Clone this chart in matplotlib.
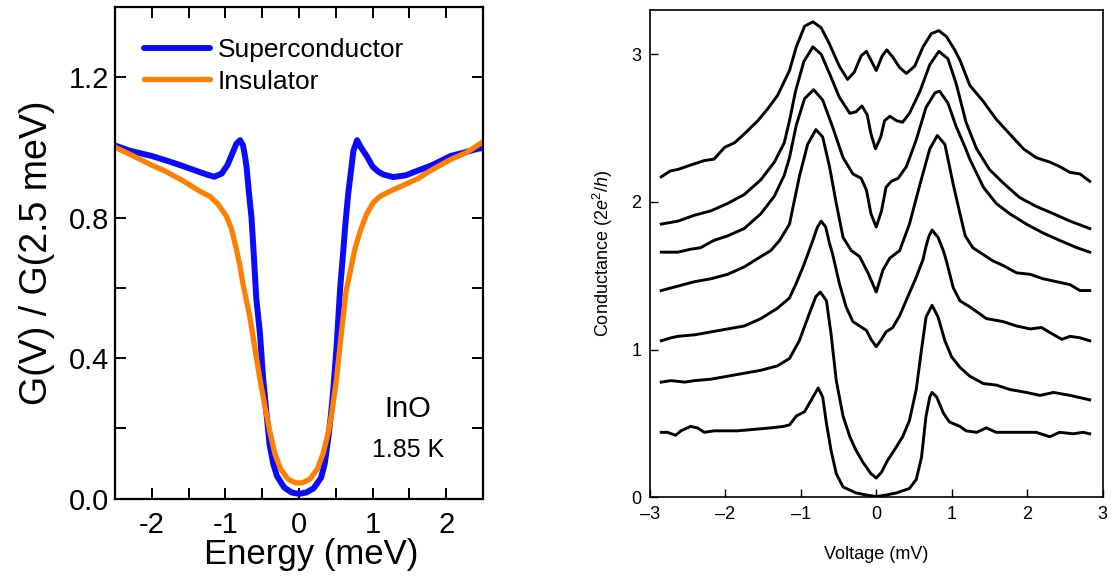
import matplotlib
matplotlib.use("Agg")
import matplotlib.pyplot as plt
from matplotlib.ticker import MultipleLocator, FuncFormatter, FormatStrFormatter

plt.rcParams['font.family'] = ['Liberation Sans', 'DejaVu Sans']
plt.rcParams['mathtext.fontset'] = 'custom'
plt.rcParams['mathtext.rm'] = 'Liberation Sans'
plt.rcParams['mathtext.it'] = 'Liberation Sans:italic'
plt.rcParams['axes.unicode_minus'] = False

# ---- left panel: normalised tunnelling conductance ----
sc_energy = [-2.5, -2.3, -2.0, -1.8, -1.6, -1.4, -1.25, -1.15, -1.05, -0.97, -0.9, -0.85, -0.8,
             -0.76, -0.73, -0.71, -0.68, -0.645, -0.61, -0.58, -0.53, -0.49, -0.44, -0.4, -0.35,
             -0.3, -0.2, -0.1, 0.0, 0.1, 0.2, 0.3, 0.35, 0.4, 0.44, 0.47, 0.51, 0.56, 0.6, 0.63,
             0.67, 0.7, 0.74, 0.79, 0.84, 0.92, 1.0, 1.08, 1.15, 1.28, 1.45, 1.61, 1.8, 2.06,
             2.25, 2.42, 2.5]
sc_cond = [1.005, 0.99, 0.975, 0.962, 0.948, 0.933, 0.922, 0.916, 0.925, 0.95, 0.985, 1.01, 1.02,
           1.005, 0.97, 0.94, 0.87, 0.80, 0.68, 0.57, 0.47, 0.35, 0.24, 0.155, 0.10,
           0.065, 0.032, 0.018, 0.014, 0.018, 0.03, 0.06, 0.10, 0.175, 0.25, 0.32, 0.43, 0.60, 0.70, 0.78,
           0.87, 0.92, 0.99, 1.02, 1.0, 0.975, 0.945, 0.93, 0.922, 0.915, 0.92, 0.933, 0.948, 0.975,
           0.985, 0.995, 0.998]

ins_energy = [-2.5, -2.25, -2.03, -1.8, -1.58, -1.35, -1.21, -1.1, -0.99, -0.92, -0.85, -0.8, -0.76,
              -0.72, -0.67, -0.6, -0.53, -0.46, -0.4, -0.33, -0.25, -0.15, -0.05, 0.0, 0.05, 0.15,
              0.25, 0.33, 0.4, 0.45, 0.51, 0.57, 0.64, 0.7, 0.76, 0.83, 0.92, 1.01, 1.1, 1.24, 1.4,
              1.61, 1.8, 2.06, 2.28, 2.5]
ins_cond = [1.0, 0.975, 0.952, 0.93, 0.905, 0.875, 0.86, 0.838, 0.805, 0.77, 0.71, 0.66, 0.61,
            0.57, 0.52, 0.43, 0.34, 0.26, 0.195, 0.13, 0.085, 0.056, 0.046, 0.045, 0.046, 0.056,
            0.085, 0.13, 0.19, 0.25, 0.34, 0.46, 0.59, 0.65, 0.71, 0.76, 0.81, 0.843, 0.86, 0.875, 0.89,
            0.91, 0.935, 0.965, 0.985, 1.015]

# ---- right panel: stacked conductance spectra (top to bottom) ----
v1 = [-2.85, -2.73, -2.63, -2.46, -2.28, -2.15, -2.01, -1.88, -1.75, -1.57, -1.44, -1.31, -1.15,
      -1.06, -0.95, -0.84, -0.73, -0.62, -0.49, -0.38, -0.29, -0.2, -0.13, -0.07, 0.0, 0.08, 0.14,
      0.22, 0.31, 0.4, 0.51, 0.62, 0.73, 0.83, 0.93, 1.04, 1.11, 1.24, 1.42, 1.59, 1.77, 1.95, 2.12,
      2.3, 2.43, 2.57, 2.7, 2.83]
g1 = [2.17, 2.21, 2.22, 2.25, 2.28, 2.29, 2.37, 2.40, 2.46, 2.55, 2.63, 2.72, 2.89,
      3.05, 3.19, 3.22, 3.18, 3.07, 2.92, 2.83, 2.88, 2.99, 3.02, 2.96, 2.89, 2.99, 3.03,
      2.98, 2.91, 2.87, 2.92, 3.05, 3.14, 3.16, 3.12, 3.03, 2.96, 2.79, 2.68, 2.56, 2.46, 2.36, 2.30,
      2.27, 2.24, 2.20, 2.19, 2.14]

v2 = [-2.85, -2.63, -2.41, -2.19, -1.97, -1.75, -1.53, -1.35, -1.22, -1.15, -1.07, -0.96, -0.84,
      -0.73, -0.62, -0.49, -0.35, -0.27, -0.19, -0.12, -0.07, -0.01, 0.06, 0.11, 0.18, 0.27, 0.35,
      0.44, 0.58, 0.71, 0.83, 0.95, 1.06, 1.19, 1.33, 1.5, 1.68, 1.9, 2.12, 2.35, 2.57, 2.83]
g2 = [1.85, 1.87, 1.91, 1.94, 1.99, 2.05, 2.15, 2.27, 2.40, 2.55, 2.75, 2.95, 3.05,
      3.00, 2.87, 2.71, 2.60, 2.61, 2.65, 2.59, 2.46, 2.36, 2.44, 2.55, 2.58, 2.55, 2.54,
      2.60, 2.75, 2.93, 3.02, 2.97, 2.80, 2.54, 2.36, 2.22, 2.13, 2.03, 1.97, 1.92, 1.87, 1.82]

v3 = [-2.85, -2.73, -2.63, -2.46, -2.33, -2.15, -1.97, -1.75, -1.53, -1.35, -1.22, -1.15, -1.06,
      -0.95, -0.83, -0.71, -0.58, -0.44, -0.31, -0.2, -0.13, -0.07, 0.0, 0.07, 0.13, 0.2, 0.29, 0.4,
      0.53, 0.66, 0.78, 0.84, 0.95, 1.06, 1.17, 1.24, 1.42, 1.59, 1.77, 1.99, 2.21, 2.43, 2.66, 2.83]
g3 = [1.66, 1.66, 1.66, 1.68, 1.69, 1.74, 1.77, 1.82, 1.92, 2.04, 2.18, 2.30, 2.52,
      2.70, 2.76, 2.69, 2.51, 2.30, 2.19, 2.16, 2.08, 1.92, 1.83, 1.94, 2.10, 2.14, 2.16, 2.24,
      2.42, 2.64, 2.74, 2.75, 2.67, 2.51, 2.38, 2.29, 2.10, 1.99, 1.92, 1.85, 1.79, 1.74, 1.69, 1.66]

v4 = [-2.85, -2.63, -2.41, -2.19, -1.97, -1.75, -1.53, -1.4, -1.28, -1.15, -1.02, -0.91, -0.8,
      -0.71, -0.62, -0.53, -0.44, -0.33, -0.22, -0.11, 0.0, 0.09, 0.18, 0.31, 0.44, 0.58, 0.71,
      0.81, 0.91, 1.02, 1.11, 1.18, 1.28, 1.4, 1.55, 1.68, 1.86, 2.04, 2.21, 2.39, 2.57, 2.7, 2.83]
g4 = [1.40, 1.43, 1.46, 1.48, 1.51, 1.56, 1.63, 1.67, 1.74, 1.85, 2.17, 2.39, 2.49,
      2.44, 2.24, 1.99, 1.76, 1.67, 1.63, 1.52, 1.39, 1.54, 1.62, 1.67, 1.85, 2.12, 2.36,
      2.45, 2.39, 2.12, 1.92, 1.77, 1.69, 1.65, 1.60, 1.57, 1.52, 1.51, 1.48, 1.46, 1.44, 1.40, 1.40]

v5 = [-2.85, -2.72, -2.63, -2.41, -2.19, -1.97, -1.75, -1.53, -1.31, -1.15, -1.06, -0.97, -0.89,
      -0.84, -0.78, -0.73, -0.67, -0.62, -0.58, -0.49, -0.4, -0.31, -0.22, -0.13, -0.07, 0.0, 0.07,
      0.13, 0.22, 0.31, 0.42, 0.53, 0.62, 0.66, 0.7, 0.74, 0.82, 0.89, 0.93, 1.02, 1.11, 1.24, 1.46,
      1.68, 1.86, 2.04, 2.19, 2.32, 2.46, 2.57, 2.7, 2.83]
g5 = [1.06, 1.08, 1.09, 1.10, 1.12, 1.14, 1.16, 1.21, 1.28, 1.35, 1.45, 1.56, 1.67,
      1.74, 1.83, 1.87, 1.83, 1.72, 1.65, 1.45, 1.29, 1.19, 1.16, 1.13, 1.07, 1.02, 1.07,
      1.12, 1.15, 1.23, 1.36, 1.49, 1.61, 1.70, 1.77, 1.81, 1.76, 1.67, 1.60, 1.42, 1.33, 1.29, 1.21,
      1.19, 1.16, 1.14, 1.15, 1.11, 1.07, 1.09, 1.08, 1.06]

v6 = [-2.85, -2.72, -2.54, -2.41, -2.19, -1.97, -1.75, -1.53, -1.31, -1.15, -1.02, -0.89, -0.8,
      -0.74, -0.66, -0.6, -0.53, -0.44, -0.35, -0.27, -0.18, -0.07, 0.0, 0.07, 0.15, 0.24, 0.35,
      0.44, 0.53, 0.6, 0.66, 0.74, 0.82, 0.91, 1.0, 1.11, 1.24, 1.42, 1.59, 1.77, 1.99, 2.17, 2.35,
      2.57, 2.83]
g6 = [0.78, 0.79, 0.78, 0.79, 0.80, 0.82, 0.84, 0.86, 0.89, 0.94, 1.06, 1.24, 1.36,
      1.39, 1.33, 1.11, 0.79, 0.55, 0.41, 0.32, 0.24, 0.16, 0.13, 0.17, 0.25, 0.32, 0.41,
      0.52, 0.73, 1.00, 1.22, 1.30, 1.22, 1.06, 0.95, 0.88, 0.82, 0.77, 0.76, 0.73, 0.71, 0.69, 0.71,
      0.69, 0.66]

v7 = [-2.85, -2.77, -2.66, -2.59, -2.46, -2.37, -2.28, -2.15, -2.01, -1.84, -1.62, -1.4, -1.23,
      -1.15, -1.06, -0.95, -0.86, -0.77, -0.71, -0.66, -0.6, -0.53, -0.44, -0.27, -0.13, 0.0, 0.13,
      0.27, 0.44, 0.53, 0.6, 0.66, 0.71, 0.74, 0.8, 0.89, 0.97, 1.11, 1.19, 1.33, 1.46, 1.59, 1.77,
      1.99, 2.12, 2.3, 2.43, 2.61, 2.74, 2.83]
g7 = [0.44, 0.44, 0.42, 0.45, 0.48, 0.47, 0.44, 0.45, 0.45, 0.45, 0.46, 0.47, 0.48,
      0.49, 0.55, 0.58, 0.66, 0.74, 0.68, 0.50, 0.32, 0.16, 0.07, 0.03, 0.015, 0.005, 0.015,
      0.03, 0.06, 0.12, 0.27, 0.55, 0.68, 0.71, 0.68, 0.57, 0.51, 0.48, 0.45, 0.44, 0.47, 0.44, 0.44,
      0.44, 0.44, 0.41, 0.44, 0.43, 0.44, 0.43]

spectra = [(v1, g1), (v2, g2), (v3, g3), (v4, g4), (v5, g5), (v6, g6), (v7, g7)]

fig = plt.figure(figsize=(11.11, 5.80), dpi=100)

# left panel
ax1 = fig.add_axes([0.1035, 0.140, 0.3312, 0.8487])
ax1.plot(sc_energy, sc_cond, color='#0a0aff', linewidth=4.3, label='Superconductor',
         solid_joinstyle='round', solid_capstyle='round')
ax1.plot(ins_energy, ins_cond, color='#ff8000', linewidth=3.8, label='Insulator',
         solid_joinstyle='round', solid_capstyle='round')
ax1.set_xlim(-2.5, 2.5)
ax1.set_ylim(0, 1.4)
ax1.xaxis.set_major_locator(MultipleLocator(1))
ax1.xaxis.set_minor_locator(MultipleLocator(0.5))
ax1.yaxis.set_major_locator(MultipleLocator(0.4))
ax1.yaxis.set_minor_locator(MultipleLocator(0.2))
ax1.yaxis.set_major_formatter(FormatStrFormatter('%.1f'))
ax1.tick_params(which='both', direction='in', top=True, right=True, length=8, width=1.4)
ax1.tick_params(axis='x', which='major', labelsize=21, pad=9)
ax1.tick_params(axis='y', which='major', labelsize=21, pad=4)
for sp in ax1.spines.values():
    sp.set_linewidth(1.6)
ax1.set_xlabel('Energy (meV)', fontsize=25)
ax1.xaxis.set_label_coords(0.533, -0.08)
ax1.set_ylabel('G(V) / G(2.5 meV)', fontsize=27, labelpad=10)
ax1.legend(loc='upper left', bbox_to_anchor=(0.05, 0.958), frameon=False, fontsize=19,
           handlelength=2.5, handletextpad=0.3, labelspacing=0.3, borderaxespad=0)
ax1.text(1.48, 0.255, 'InO', fontsize=21, ha='center', va='center')
ax1.text(1.48, 0.14, '1.85 K', fontsize=18, ha='center', va='center')

# right panel
ax2 = fig.add_axes([0.585, 0.1426, 0.4074, 0.8402])
for volt, cond in spectra:
    ax2.plot(volt, cond, color='black', linewidth=2.1, solid_joinstyle='round')
ax2.set_xlim(-3, 3)
ax2.set_ylim(0, 3.3)
ax2.xaxis.set_major_locator(MultipleLocator(1))
ax2.yaxis.set_major_locator(MultipleLocator(1))
ax2.xaxis.set_major_formatter(FuncFormatter(lambda v, p: f'{v:.0f}'.replace('-', '\u2013')))
ax2.tick_params(direction='in', length=5.5, width=1.0, labelsize=13, pad=6)
for sp in ax2.spines.values():
    sp.set_linewidth(1.2)
ax2.set_xlabel('Voltage (mV)', fontsize=13, labelpad=17)
ax2.set_ylabel('Conductance (2$e^2$/$h$)', fontsize=13, labelpad=12)

fig.savefig('out.png', dpi=100)
